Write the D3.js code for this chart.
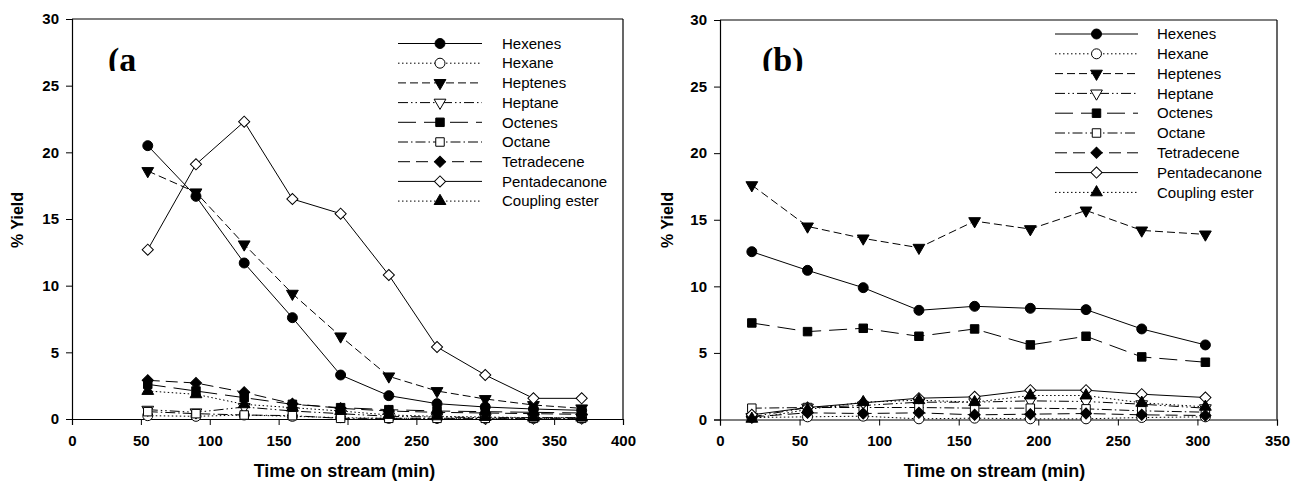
<!DOCTYPE html>
<html><head><meta charset="utf-8">
<script src="https://cdn.jsdelivr.net/npm/d3@7/dist/d3.min.js"></script>
<style>body{margin:0;background:#fff}svg{display:block}</style>
</head><body>
<svg id="chart" width="1292" height="487"></svg>
<script>
// ---------- data ----------
const seriesNames = ["Hexenes","Hexane","Heptenes","Heptane","Octenes","Octane","Tetradecene","Pentadecanone","Coupling ester"];
const yTicks = [0,5,10,15,20,25,30];
const xTicksA = [0,50,100,150,200,250,300,350,400];
const xTicksB = [0,50,100,150,200,250,300,350];

const timeA = [55,90,125,160,195,230,265,300,335,370];
const hexenesA       = [20.5,16.7,11.7,7.6,3.3,1.75,1.15,0.9,0.75,0.65];
const hexaneA        = [0.25,0.2,0.3,0.2,0.1,0.05,0.05,0.05,0.05,0.05];
const heptenesA      = [18.6,17.0,13.1,9.4,6.2,3.2,2.1,1.5,1.05,0.8];
const heptaneA       = [0.7,0.5,0.9,0.6,0.4,0.2,0.15,0.1,0.1,0.1];
const octenesA       = [2.6,2.1,1.6,1.1,0.85,0.7,0.6,0.55,0.5,0.45];
const octaneA        = [0.55,0.4,0.3,0.25,0.05,0.05,0.05,0.05,0.05,0.05];
const tetradeceneA   = [2.9,2.7,2.0,1.15,0.8,0.6,0.5,0.45,0.4,0.35];
const pentadecanoneA = [12.7,19.1,22.3,16.5,15.4,10.8,5.4,3.3,1.55,1.55];
const couplingA      = [2.1,1.85,1.1,0.85,0.6,0.3,0.2,0.15,0.1,0.1];

const timeB = [20,55,90,125,160,195,230,265,305];
const hexenesB       = [12.6,11.2,9.9,8.2,8.5,8.35,8.25,6.8,5.6];
const hexaneB        = [0.15,0.2,0.25,0.05,0.1,0.05,0.05,0.15,0.2];
const heptenesB      = [17.6,14.5,13.6,12.9,14.9,14.3,15.7,14.2,13.9];
const heptaneB       = [0.2,0.9,1.05,1.3,1.3,1.4,1.35,1.15,0.85];
const octenesB       = [7.25,6.6,6.85,6.25,6.8,5.6,6.25,4.7,4.3];
const octaneB        = [0.85,0.9,0.9,0.9,0.85,0.85,0.8,0.65,0.55];
const tetradeceneB   = [0.2,0.5,0.45,0.5,0.35,0.4,0.45,0.35,0.3];
const pentadecanoneB = [0.35,0.9,1.25,1.6,1.7,2.2,2.2,1.9,1.65];
const couplingB      = [0.05,0.75,1.3,1.45,1.3,1.8,1.8,1.25,0.95];

// ---------- styles ----------
const styles = {
  "Hexenes":        {dash:null,            sym:"circle",   fill:"#000"},
  "Hexane":         {dash:"1.5,2.5",       sym:"circle",   fill:"#fff"},
  "Heptenes":       {dash:"8,4",           sym:"tridown",  fill:"#000"},
  "Heptane":        {dash:"10,3,1.5,3,1.5,3", sym:"tridown", fill:"#fff"},
  "Octenes":        {dash:"18,8",          sym:"square",   fill:"#000"},
  "Octane":         {dash:"10,3,1.5,3",    sym:"square",   fill:"#fff"},
  "Tetradecene":    {dash:"12,6",          sym:"diamond",  fill:"#000"},
  "Pentadecanone":  {dash:null,            sym:"diamond",  fill:"#fff"},
  "Coupling ester": {dash:"1.5,2.5",       sym:"triup",    fill:"#000"}
};
function symPath(s){
  if(s==="circle") return d3.symbol(d3.symbolCircle,78)();
  if(s==="square") return d3.symbol(d3.symbolSquare,72)();
  if(s==="diamond") return d3.symbol(d3.symbolSquare,62)();
  return d3.symbol(d3.symbolTriangle,60)();
}
function symRot(s){ return s==="tridown"?180:(s==="diamond"?45:0); }

const svg = d3.select("#chart");
const font = "'Liberation Sans', Arial, sans-serif";

function panel(cfg){
  const g = svg.append("g");
  const x = d3.scaleLinear().domain([0,cfg.xmax]).range([cfg.x0,cfg.x1]);
  const y = d3.scaleLinear().domain([0,30]).range([cfg.y0,cfg.y1]);

  // frame (top & right)
  g.append("line").attr("x1",cfg.x0).attr("x2",cfg.x1).attr("y1",cfg.y1).attr("y2",cfg.y1).attr("stroke","#000").attr("stroke-width",1.2);
  g.append("line").attr("x1",cfg.x1).attr("x2",cfg.x1).attr("y1",cfg.y1).attr("y2",cfg.y0).attr("stroke","#000").attr("stroke-width",1.2);

  const xa = g.append("g").attr("transform",`translate(0,${cfg.y0})`)
    .call(d3.axisBottom(x).tickValues(cfg.xticks).tickSize(6).tickPadding(10).tickFormat(d3.format("d")));
  const ya = g.append("g").attr("transform",`translate(${cfg.x0},0)`)
    .call(d3.axisLeft(y).tickValues(yTicks).tickSize(6).tickPadding(7).tickFormat(d3.format("d")));
  [xa,ya].forEach(a=>{
    a.select(".domain").attr("stroke","#000").attr("stroke-width",1.2);
    a.selectAll(".tick line").attr("stroke","#000");
    a.selectAll("text").attr("font-family",font).attr("font-weight","bold").attr("font-size",15).attr("fill","#000");
  });

  // series
  seriesNames.forEach((name,i)=>{
    const st = styles[name];
    const vals = cfg.data[i];
    const pts = cfg.time.map((t,j)=>[t,vals[j]]);
    const line = d3.line().x(d=>x(d[0])).y(d=>y(d[1]));
    g.append("path").attr("d",line(pts)).attr("fill","none").attr("stroke","#000")
      .attr("stroke-width",1).attr("stroke-dasharray",st.dash);
    g.selectAll(null).data(pts).enter().append("path")
      .attr("d",symPath(st.sym))
      .attr("transform",d=>`translate(${x(d[0])},${y(d[1])}) rotate(${symRot(st.sym)})`)
      .attr("fill",st.fill).attr("stroke","#000").attr("stroke-width",1);
  });

  // legend
  const lg = g.append("g");
  seriesNames.forEach((name,i)=>{
    const st = styles[name];
    const ry = cfg.legY + i*cfg.legStep;
    lg.append("line").attr("x1",cfg.legX0).attr("x2",cfg.legX1).attr("y1",ry).attr("y2",ry)
      .attr("stroke","#000").attr("stroke-width",1).attr("stroke-dasharray",st.dash);
    lg.append("path").attr("d",symPath(st.sym))
      .attr("transform",`translate(${(cfg.legX0+cfg.legX1)/2},${ry}) rotate(${symRot(st.sym)})`)
      .attr("fill",st.fill).attr("stroke","#000");
    lg.append("text").attr("x",cfg.legText).attr("y",ry).attr("dy","0.35em")
      .attr("font-family",font).attr("font-size",15).attr("fill","#000").text(name);
  });

  // panel label (clipped at bottom like the original)
  const cid = "clip"+cfg.id;
  svg.append("clipPath").attr("id",cid).append("rect")
    .attr("x",cfg.labX-5).attr("y",30).attr("width",80).attr("height",41);
  g.append("text").attr("clip-path",`url(#${cid})`).attr("x",cfg.labX).attr("y",71)
    .attr("font-family","'Liberation Serif', 'Times New Roman', serif").attr("font-weight","bold")
    .attr("font-size",34).attr("fill","#000").text(cfg.label);

  // axis titles
  g.append("text").attr("x",(cfg.x0+cfg.x1)/2 + cfg.titleDx).attr("y",477).attr("text-anchor","middle")
    .attr("font-family",font).attr("font-weight","bold").attr("font-size",18).text("Time on stream (min)");
  g.append("text").attr("transform",`translate(${cfg.yTitleX},220) rotate(-90)`).attr("text-anchor","middle")
    .attr("font-family",font).attr("font-weight","bold").attr("font-size",16).text("% Yield");
}

panel({id:"a", x0:72, x1:623, y0:419, y1:19, xmax:400, xticks:xTicksA, time:timeA,
  data:[hexenesA,hexaneA,heptenesA,heptaneA,octenesA,octaneA,tetradeceneA,pentadecanoneA,couplingA],
  legX0:398, legX1:482, legText:502, legY:43.5, legStep:19.7, labX:108, label:"(a", yTitleX:23, titleDx:-3});
panel({id:"b", x0:720, x1:1277, y0:419.5, y1:20, xmax:350, xticks:xTicksB, time:timeB,
  data:[hexenesB,hexaneB,heptenesB,heptaneB,octenesB,octaneB,tetradeceneB,pentadecanoneB,couplingB],
  legX0:1055, legX1:1138, legText:1157, legY:34, legStep:19.8, labX:762, label:"(b)", yTitleX:673, titleDx:-4});
</script>
</body></html>
